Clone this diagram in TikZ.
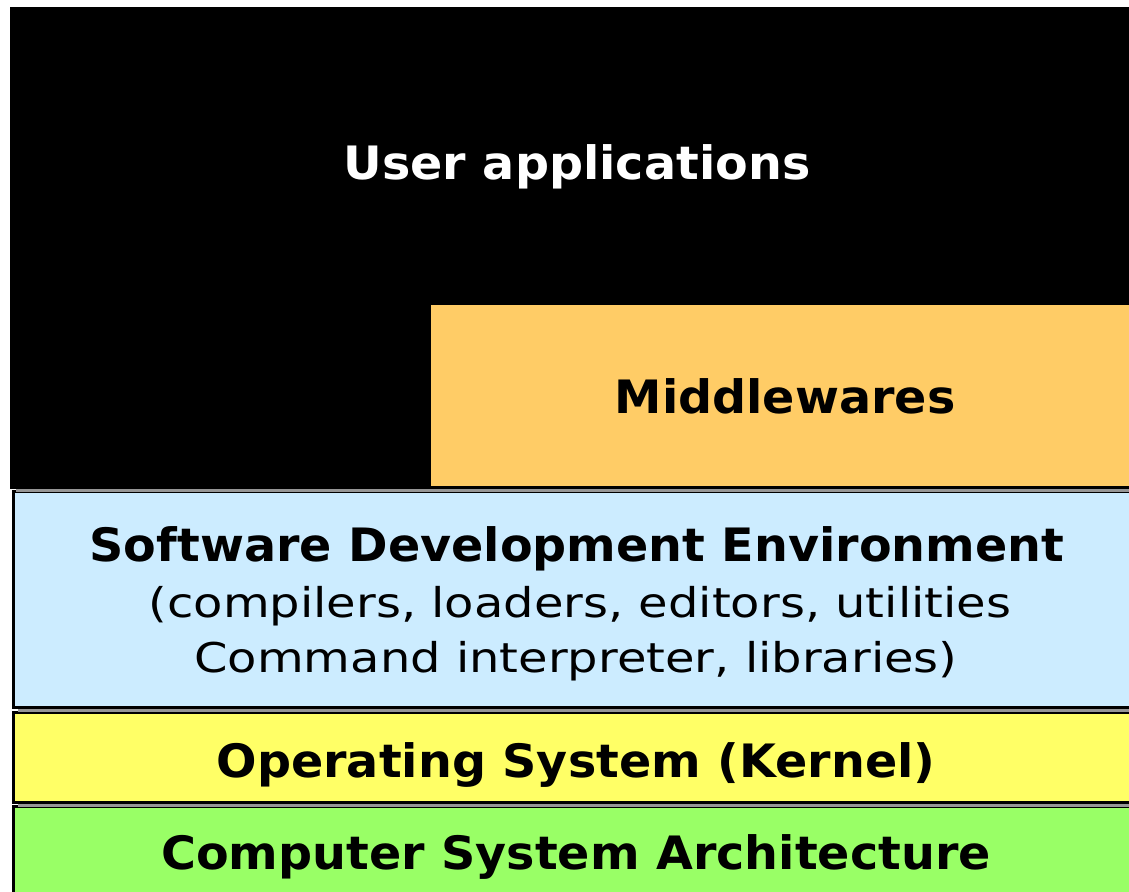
\documentclass[tikz,border=0pt]{standalone}
\usepackage{fontspec}
\setmainfont{DejaVu Sans}
\newfontfamily\titlefont[FakeStretch=1.035]{DejaVu Sans}
\newfontfamily\plainfont[FakeStretch=1.17]{DejaVu Sans}
\usetikzlibrary{shadows}

\definecolor{appcol}{HTML}{000000}
\definecolor{mwcol}{HTML}{FFCC66}
\definecolor{sdecol}{HTML}{CCECFF}
\definecolor{oscol}{HTML}{FFFF66}
\definecolor{archcol}{HTML}{99FF66}
\definecolor{shadowgray}{HTML}{969696}

\tikzset{
  layer/.style={rectangle, draw=black, line width=2.5pt, inner sep=0pt,
    anchor=north west,
    drop shadow={shadow xshift=5pt, shadow yshift=-5pt, fill=shadowgray, opacity=1}},
  title/.style={anchor=base, inner sep=0pt, font=\titlefont\fontsize{46}{55}\selectfont\bfseries},
  plain/.style={anchor=base, inner sep=0pt, font=\plainfont\fontsize{41}{49}\selectfont},
}

\begin{document}
\begin{tikzpicture}[x=1pt, y=-1pt]
  \useasboundingbox (0,0) rectangle (1129,891);
  \clip (0,0) rectangle (1129,891);
  \fill[white] (0,0) rectangle (1129,891);

  % layers, drawn bottom-up so each shadow falls on the layer beneath
  \node[layer, fill=archcol, minimum width=1140pt, minimum height=100pt] (arch) at (12,805) {};
  \node[layer, fill=oscol,   minimum width=1140pt, minimum height=90pt]  (os)   at (12,711) {};
  \node[layer, fill=sdecol,  minimum width=1140pt, minimum height=216pt] (sde)  at (12,490) {};
  \node[layer, fill=appcol,  minimum width=1140pt, minimum height=479pt] (app)  at (10,7)   {};
  \node[layer, fill=mwcol,   minimum width=720pt,  minimum height=184pt] (mw)   at (428,302) {};

  % labels
  \node[title, text=white] (appt) at (577,179) {User applications};
  \node[title] (mwt) at (785,413) {Middlewares};
  \node[title] (sdet) at (577,561) {Software Development Environment};
  \node[plain] (sde2) at (580,617) {(compilers, loaders, editors, utilities};
  \node[plain] (sde3) at (576,672) {Command interpreter, libraries)};
  \node[title] (ost) at (576,777) {Operating System (Kernel)};
  \node[title] (archt) at (576,869) {Computer System Architecture};
\end{tikzpicture}
\end{document}
